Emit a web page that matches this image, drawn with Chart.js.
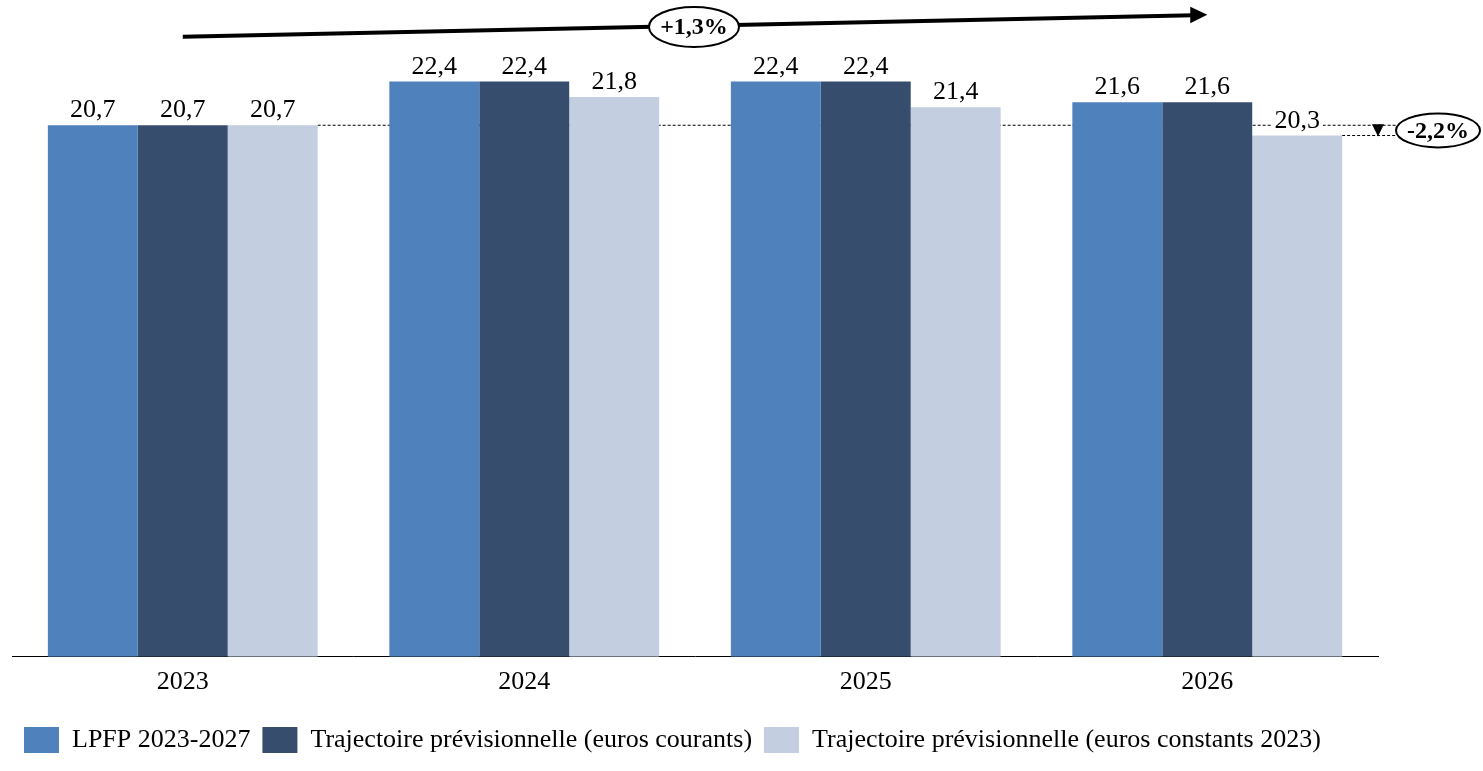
<!DOCTYPE html>
<html>
<head>
<meta charset="utf-8">
<script src="https://cdn.jsdelivr.net/npm/chart.js@4"></script>
<style>
  html, body { margin: 0; padding: 0; background: #fff; }
  #wrap { width: 1483px; height: 771px; }
</style>
</head>
<body>
<div id="wrap"><canvas id="graf"></canvas></div>
<script>
const annees = ['2023', '2024', '2025', '2026'];
const lpfp = [20.7, 22.4, 22.4, 21.6];
const courants = [20.7, 22.4, 22.4, 21.6];
const constants = [20.7, 21.8, 21.4, 20.3];
const noms = ['LPFP 2023-2027', 'Trajectoire prévisionnelle (euros courants)', 'Trajectoire prévisionnelle (euros constants 2023)'];
const evolTotale = '+1,3%';
const evolConst = '-2,2%';

const police = '"Liberation Serif", "DejaVu Serif", serif';

function fmt(v) { return v.toFixed(1).replace('.', ','); }

// etiquettes et annotations
const decor = {
  id: 'decor',
  beforeDatasetsDraw(chart) {
    const ctx = chart.ctx;
    const y = chart.scales.y;
    const m2 = chart.getDatasetMeta(2);
    const yRef = y.getPixelForValue(constants[0]);
    const yFin = y.getPixelForValue(constants[3]);
    const xDeb = m2.data[0].x + m2.data[0].width / 2;
    const xFinBar = m2.data[3].x + m2.data[3].width / 2;
    ctx.save();
    ctx.strokeStyle = '#000';
    ctx.lineWidth = 1;
    ctx.setLineDash([3, 2]);
    ctx.beginPath();
    ctx.moveTo(xDeb, yRef); ctx.lineTo(chart.chartArea.right + 18, yRef);
    ctx.moveTo(xFinBar, yFin); ctx.lineTo(chart.chartArea.right + 18, yFin);
    ctx.stroke();
    ctx.restore();
  },
  afterDatasetsDraw(chart) {
    const ctx = chart.ctx;
    const y = chart.scales.y;
    const xa = chart.scales.x;
    ctx.save();
    ctx.font = '26px ' + police;
    ctx.textAlign = 'center';
    ctx.textBaseline = 'alphabetic';
    chart.data.datasets.forEach((ds, i) => {
      chart.getDatasetMeta(i).data.forEach((b, j) => {
        const t = fmt(ds.data[j]);
        const w = ctx.measureText(t).width;
        ctx.fillStyle = '#fff';
        ctx.fillRect(b.x - w / 2 - 3, b.y - 28, w + 6, 23);
        ctx.fillStyle = '#000';
        ctx.fillText(t, b.x, b.y - 8);
      });
    });

    // triangle + ellipse -2,2%
    const yRef = y.getPixelForValue(constants[0]);
    const yFin = y.getPixelForValue(constants[3]);
    const xt = chart.chartArea.right;
    ctx.fillStyle = '#000';
    ctx.beginPath();
    ctx.moveTo(xt - 6, yRef - 1);
    ctx.lineTo(xt + 6, yRef - 1);
    ctx.lineTo(xt, yFin + 1);
    ctx.closePath();
    ctx.fill();

    const cx = xt + 60, cy = (yRef + yFin) / 2;
    ctx.beginPath();
    ctx.ellipse(cx, cy, 42, 17, 0, 0, Math.PI * 2);
    ctx.fillStyle = '#fff';
    ctx.fill();
    ctx.lineWidth = 2;
    ctx.strokeStyle = '#000';
    ctx.stroke();
    ctx.fillStyle = '#000';
    ctx.font = 'bold 24px ' + police;
    ctx.textBaseline = 'middle';
    ctx.fillText(evolConst, cx, cy + 1);

    // fleche du haut
    const x0 = xa.getPixelForValue(0);
    const x1 = xa.getPixelForValue(3);
    const y0 = y.getPixelForValue(24.15);
    const y1 = y.getPixelForValue(25.0);
    ctx.lineWidth = 4;
    ctx.beginPath();
    ctx.moveTo(x0, y0);
    ctx.lineTo(x1 - 14, y1 + 0.3);
    ctx.stroke();
    ctx.beginPath();
    ctx.moveTo(x1, y1);
    ctx.lineTo(x1 - 17, y1 - 8);
    ctx.lineTo(x1 - 17, y1 + 8.5);
    ctx.closePath();
    ctx.fill();

    const ex = (x0 + x1) / 2 - 1;
    const ey = y.getPixelForValue(24.53);
    ctx.beginPath();
    ctx.ellipse(ex, ey, 45, 20, 0, 0, Math.PI * 2);
    ctx.fillStyle = '#fff';
    ctx.fill();
    ctx.lineWidth = 2;
    ctx.stroke();
    ctx.fillStyle = '#000';
    ctx.fillText(evolTotale, ex, ey + 1);
    ctx.restore();
  }
};

new Chart(document.getElementById('graf'), {
  type: 'bar',
  data: {
    labels: annees,
    datasets: [
      { label: noms[0], data: lpfp, backgroundColor: '#4f81bd' },
      { label: noms[1], data: courants, backgroundColor: '#374d6e' },
      { label: noms[2], data: constants, backgroundColor: '#c3cee0' }
    ]
  },
  options: {
    responsive: true,
    maintainAspectRatio: false,
    animation: false,
    layout: { padding: { left: 12, right: 105, top: 2, bottom: 8 } },
    datasets: { bar: { categoryPercentage: 0.79, barPercentage: 1.0 } },
    plugins: {
      legend: {
        position: 'bottom',
        align: 'start',
        labels: {
          boxWidth: 35,
          boxHeight: 26,
          padding: 12,
          color: '#000',
          font: { family: police, size: 26 }
        }
      },
      tooltip: { enabled: false }
    },
    scales: {
      x: {
        grid: { display: false, drawTicks: false },
        border: { color: '#000', width: 1 },
        ticks: { color: '#000', padding: 10, font: { family: police, size: 26 } },
        afterFit(scale) { scale.height += 7; }
      },
      y: {
        display: false,
        min: 0,
        max: 25.5
      }
    }
  },
  plugins: [decor]
});
</script>
</body>
</html>
